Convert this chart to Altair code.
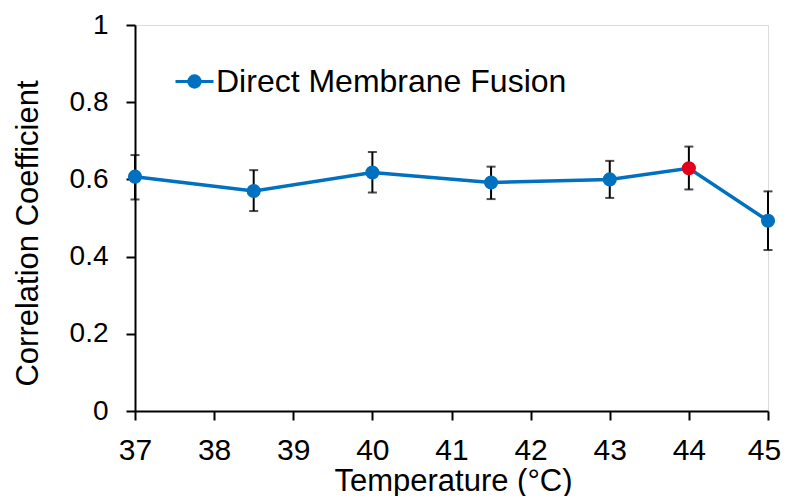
import altair as alt
import pandas as pd

temps = [37, 38.5, 40, 41.5, 43, 44, 45]
corr = [0.607, 0.570, 0.618, 0.592, 0.600, 0.629, 0.493]
err_hi = [0.663, 0.624, 0.671, 0.633, 0.648, 0.685, 0.569]
err_lo = [0.548, 0.518, 0.566, 0.549, 0.552, 0.574, 0.417]
highlight = [False, False, False, False, False, True, False]
series = "Direct Membrane Fusion"
x_ticks = [37, 38, 39, 40, 41, 42, 43, 44, 45]
y_ticks = [0, 0.2, 0.4, 0.6, 0.8, 1]

df = pd.DataFrame({
    "temp": temps, "corr": corr, "hi": err_hi, "lo": err_lo,
    "hl": highlight, "series": [series] * len(temps),
})

BLUE = "#0070C0"
RED = "#E2001A"
FONT = "Liberation Sans"

x = alt.X("temp:Q", scale=alt.Scale(domain=[37, 45], nice=False, zero=False),
          axis=alt.Axis(values=x_ticks, format="d", title="Temperature (°C)",
                        grid=False, domainColor="black", domainWidth=2,
                        tickColor="black", tickWidth=2, tickSize=9,
                        labelFont=FONT, labelFontSize=30, labelColor="black",
                        labelPadding=15, labelFlush=False,
                        labelOffset=alt.condition("datum.value == 45", alt.value(-4), alt.value(0)),
                        titleFont=FONT, titleFontSize=31, titleFontWeight="normal",
                        titleColor="black", titleX=318, titleY=79,
                        titleBaseline="alphabetic", titleAlign="center"))
y = alt.Y("corr:Q", scale=alt.Scale(domain=[0, 1], nice=False),
          axis=alt.Axis(values=y_ticks, format="~g",
                        title="Correlation Coefficient",
                        grid=False, domainColor="black", domainWidth=2,
                        tickColor="black", tickWidth=2, tickSize=9,
                        labelFont=FONT, labelFontSize=28, labelColor="black",
                        labelPadding=18,
                        titleFont=FONT, titleFontSize=31, titleFontWeight="normal",
                        titleColor="black", titleX=-107, titleY=208,
                        titleAngle=-90, titleBaseline="middle", titleAlign="center"))

base = alt.Chart(df)

rules = base.mark_rule(color="black", strokeWidth=2).encode(x=x, y="lo:Q", y2="hi:Q")
cap_hi = base.mark_tick(color="black", thickness=2, size=9, orient="horizontal").encode(x="temp:Q", y="hi:Q")
cap_lo = base.mark_tick(color="black", thickness=2, size=9, orient="horizontal").encode(x="temp:Q", y="lo:Q")

line = base.mark_line(strokeWidth=3.5).encode(
    x=x, y=y,
    color=alt.Color("series:N", scale=alt.Scale(domain=[series], range=[BLUE]),
                    legend=alt.Legend(
                        orient="none", legendX=39, legendY=36, title=None,
                        padding=0, labelLimit=600,
                        symbolType="M-1,0L1,0M-0.3,0A0.3,0.3,0,1,1,0.3,0A0.3,0.3,0,1,1,-0.3,0",
                        symbolSize=1444, symbolStrokeWidth=3,
                        symbolFillColor=BLUE, symbolStrokeColor=BLUE,
                        labelFont=FONT, labelFontSize=32, labelColor="black",
                        labelOffset=1)),
)

points = base.mark_circle(size=200, opacity=1).encode(
    x="temp:Q", y="corr:Q",
    color=alt.condition(alt.datum.hl, alt.value(RED), alt.value(BLUE)),
)

chart = alt.layer(rules, cap_hi, cap_lo, line, points).properties(
    width=633, height=386,
    autosize=alt.AutoSizeParams(type="none"),
    padding={"left": 127, "top": 17, "right": 14, "bottom": 85},
).configure_view(stroke=None).configure(background="white")

chart.save("out.html", embed_options={"renderer": "svg", "actions": False})
